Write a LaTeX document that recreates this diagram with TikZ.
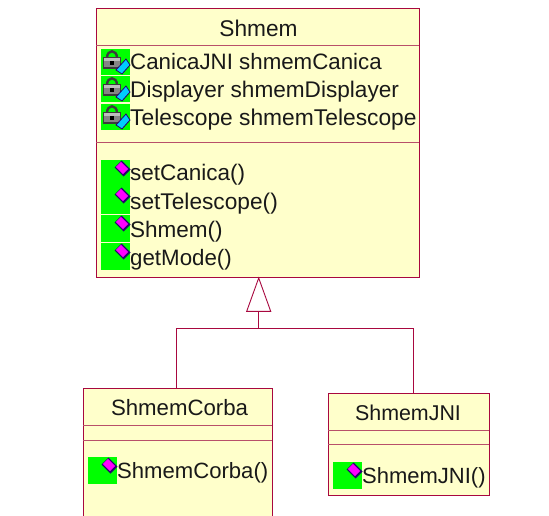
\documentclass[tikz,border=0pt]{standalone}
\usepackage{fontspec}
\setmainfont{Liberation Sans}
\definecolor{umlline}{HTML}{A8083F}
\definecolor{umlsep}{HTML}{B8506A}
\definecolor{umlfill}{HTML}{FFFFCB}
\definecolor{iconmag}{RGB}{255,0,255}
\definecolor{iconblue}{RGB}{0,204,255}
\definecolor{icongreen}{RGB}{0,255,0}
\definecolor{iconnavy}{RGB}{40,0,110}
\definecolor{icondark}{RGB}{60,60,60}
\definecolor{iconlight}{RGB}{190,190,190}
\newcommand{\fsz}[1]{\fontsize{#1}{26}\selectfont}
\tikzset{
  x=1pt,y=-1pt,
  classbox/.style={draw=umlline,fill=umlfill,line width=1pt,anchor=north west,inner sep=0pt},
  sepline/.style={draw=umlsep,line width=1pt},
  title/.style={font=\fsz{22.5},text=black!90,inner sep=0pt,anchor=center},
  member/.style={font=\fsz{22.5},text=black!90,inner sep=0pt,anchor=base west},
  wire/.style={draw=umlline,line width=0.9pt},
}
\newcommand{\privicon}[2]{%
  \begin{scope}[shift={(#1,#2)}]
    \fill[icongreen] (0,0) rectangle (29,26.5);
    \draw[icondark,line width=2.4pt] (6,9) .. controls (6,0) and (16,0) .. (16,9);
    \fill[icondark] (1.5,8) rectangle (20,20);
    \fill[iconlight] (3,9.5) rectangle (18.5,12);
    \fill[iconlight!70!black] (3,12) rectangle (18.5,18.5);
    \fill[black] (9,12.5) rectangle (12.5,16);
    \draw[iconnavy,fill=iconblue,line width=0.8pt] (25,10) -- (29,16) -- (21,25) -- (15,21) -- cycle;
  \end{scope}}
\newcommand{\pubicon}[2]{%
  \begin{scope}[shift={(#1,#2)}]
    \fill[icongreen] (0,0) rectangle (29,26.5);
    \fill[iconnavy] (20.5,0.5) -- (29.5,9.5) -- (22.5,16.5) -- (13.5,7.5) -- cycle;
    \fill[iconmag] (20,1.8) -- (27.2,9) -- (22,14.2) -- (14.8,7) -- cycle;
  \end{scope}}
\begin{document}
\begin{tikzpicture}
\useasboundingbox (0,0) rectangle (549,516);
% boxes
\node[classbox,minimum width=322.5pt,minimum height=268pt] (shmem) at (96,8.5) {};
\node[classbox,minimum width=189pt,minimum height=140pt] (corba) at (83,388) {};
\node[classbox,minimum width=160.5pt,minimum height=102pt] (jni) at (328,393) {};
\useasboundingbox (0,0) rectangle (549,516);
% separators
\draw[sepline] (96,45.5) -- (418.5,45.5);
\draw[sepline] (96,142.5) -- (418.5,142.5);
\draw[sepline] (83,425.7) -- (272,425.7);
\draw[sepline] (83,440) -- (272,440);
\draw[sepline] (328,430.7) -- (488.5,430.7);
\draw[sepline] (328,444.7) -- (488.5,444.7);
% icons
\privicon{101}{49}\privicon{101}{76}\privicon{101}{104}
\pubicon{101}{160}\pubicon{101}{187}\pubicon{101}{215}\pubicon{101}{243}
\pubicon{88}{457}\pubicon{333}{462}
% texts
\node[title,font=\fsz{22.7}] (t1) at (258.5,28.5) {Shmem};
\node[member,font=\fsz{22.3}] (a1) at (130,70) {CanicaJNI shmemCanica};
\node[member,font=\fsz{22.6}] (a2) at (130,98) {Displayer shmemDisplayer};
\node[member,font=\fsz{22.8}] (a3) at (130,126) {Telescope shmemTelescope};
\node[member] (m1) at (130,181) {setCanica()};
\node[member,font=\fsz{22.7}] (m2) at (130,209) {setTelescope()};
\node[member] (m3) at (130,237) {Shmem()};
\node[member,font=\fsz{22.3}] (m4) at (130,265) {getMode()};
\node[title,font=\fsz{22.2}] (t2) at (179.5,408) {ShmemCorba};
\node[member,font=\fsz{22.1}] (m5) at (117,478) {ShmemCorba()};
\node[title,font=\fsz{21.4}] (t3) at (408,412.5) {ShmemJNI};
\node[member,font=\fsz{22}] (m6) at (362,483) {ShmemJNI()};
% generalization
\coordinate (apex) at (258.7,278);
\coordinate (bl) at (246.7,311.3);
\coordinate (br) at (270.7,311.3);
\coordinate (basemid) at (258.7,311.3);
\coordinate (junction) at (258.7,328);
\coordinate (lefttop) at (176,328);
\coordinate (righttop) at (413.5,328);
\coordinate (leftend) at (176,388);
\coordinate (rightend) at (413.5,393);
\draw[wire,fill=white] (apex) -- (br) -- (bl) -- cycle;
\draw[wire] (basemid) -- (junction);
\draw[wire] (leftend) -- (lefttop) -- (righttop) -- (rightend);
\end{tikzpicture}
\end{document}
